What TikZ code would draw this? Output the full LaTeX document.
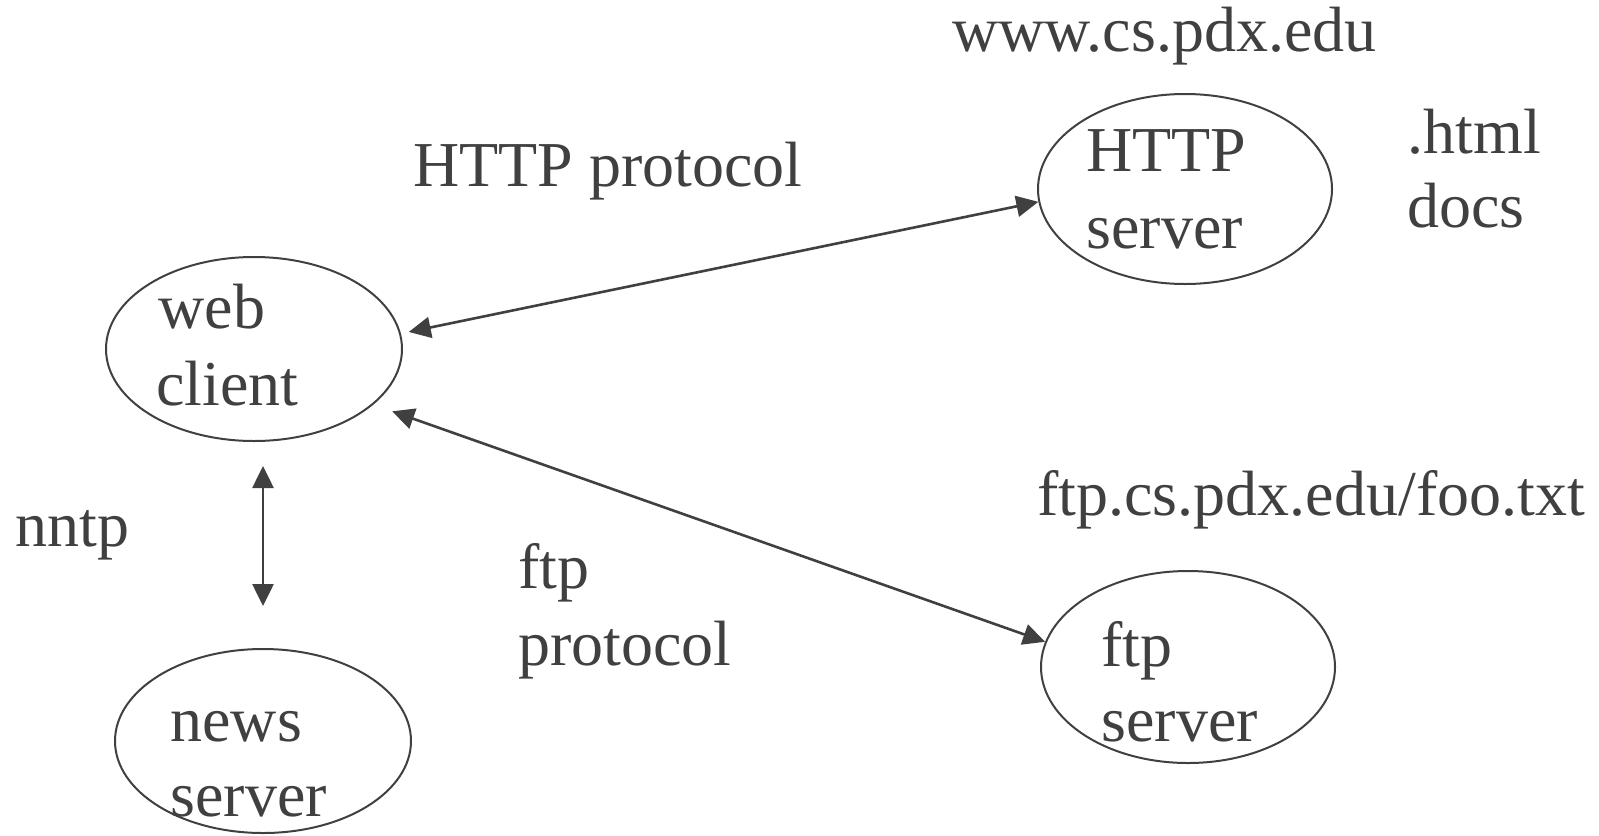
\documentclass[tikz,border=0pt]{standalone}
\usepackage{fontspec}
\setmainfont{Liberation Serif}
\usetikzlibrary{arrows.meta,shapes.geometric}
\definecolor{ink}{RGB}{64,64,64}
\begin{document}
\begin{tikzpicture}[x=0.5pt,y=-0.5pt,
  ell/.style={draw=ink, line width=1pt, ellipse, inner sep=0pt},
  txt/.style={anchor=base west, inner sep=0pt, text=ink, font=\fontsize{32}{37}\selectfont},
  arr/.style={draw=ink, line width=1.3pt, {Triangle[length=11pt,width=10.5pt]}-{Triangle[length=11pt,width=10.5pt]}}]
\useasboundingbox (0,0) rectangle (1599,835);
% ellipses
\node[ell, minimum width=148pt, minimum height=92pt] (wc) at (254,349) {};
\node[ell, minimum width=147pt, minimum height=95pt] (hs) at (1185,189) {};
\node[ell, minimum width=147pt, minimum height=96pt] (fs) at (1188,667) {};
\node[ell, minimum width=148pt, minimum height=92pt] (ns) at (263,741) {};
% texts
\node[txt] (t1) at (952,51) {www.cs.pdx.edu};
\node[txt] (t2) at (413,186) {HTTP protocol};
\node[txt] (t3) at (1407,153) {.html};
\node[txt] (t4) at (1407,227) {docs};
\node[txt] (t5) at (1086,171) {HTTP};
\node[txt] (t6) at (1086,248) {server};
\node[txt] (t7) at (158,328) {web};
\node[txt] (t8) at (156,405) {client};
\node[txt] (t9) at (15,546) {nntp};
\node[txt] (t10) at (518,588) {ftp};
\node[txt] (t11) at (518,665) {protocol};
\node[txt] (t12) at (1037,515) {ftp.cs.pdx.edu/foo.txt};
\node[txt] (t13) at (1101,666) {ftp};
\node[txt] (t14) at (1101,741) {server};
\node[txt] (t15) at (170,741) {news};
\node[txt] (t16) at (170,816) {server};
% connectors
\draw[arr, shorten <=4pt] (wc.6) -- (hs.185);
\draw[arr, shorten <=10pt] (wc.-25) -- (fs.170);
\draw[arr, shorten <=12pt, shorten >=21pt] (ns.north |- wc.south) -- (ns.north);
\end{tikzpicture}
\end{document}
